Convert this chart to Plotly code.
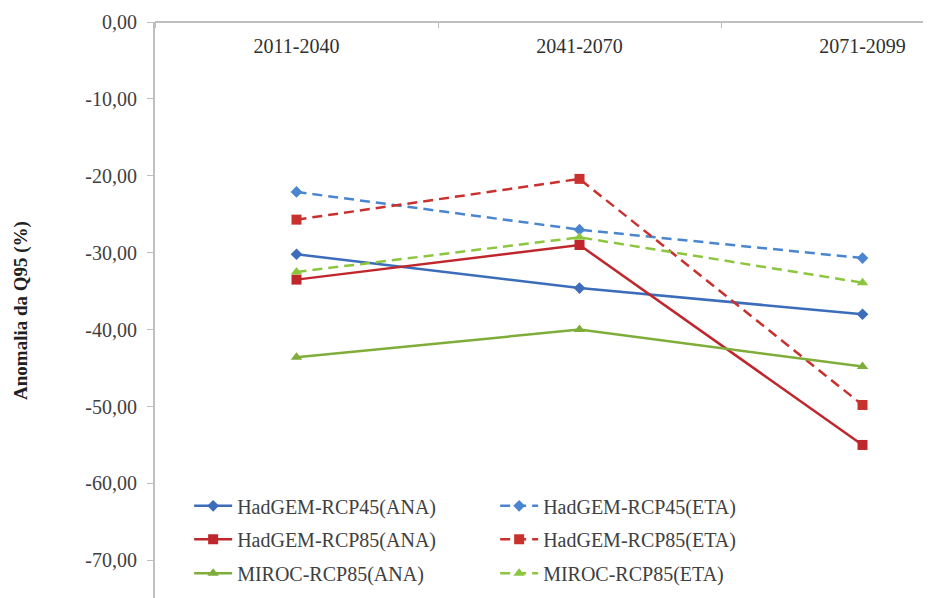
import plotly.graph_objects as go

periods = ["2011-2040", "2041-2070", "2071-2099"]
series_names = [
    "HadGEM-RCP45(ANA)", "HadGEM-RCP45(ETA)",
    "HadGEM-RCP85(ANA)", "HadGEM-RCP85(ETA)",
    "MIROC-RCP85(ANA)", "MIROC-RCP85(ETA)",
]
had45_ana = [-30.2, -34.6, -38.0]
had45_eta = [-22.1, -27.0, -30.7]
had85_ana = [-33.5, -29.0, -55.0]
had85_eta = [-25.7, -20.4, -49.8]
miroc_ana = [-43.6, -40.0, -44.8]
miroc_eta = [-32.5, -28.0, -33.9]
y_ticks = [0, -10, -20, -30, -40, -50, -60, -70]
y_title = "Anomalia da Q95 (%)"

values = [had45_ana, had45_eta, had85_ana, had85_eta, miroc_ana, miroc_eta]
colors = ["#3B6DBA", "#4A86CF", "#C0272D", "#C9312F", "#7FAD3A", "#8CC63F"]
dashes = ["solid", "dash", "solid", "dash", "solid", "dash"]
symbols = ["diamond", "diamond", "square", "square", "triangle-up", "triangle-up"]
sizes = [9, 9, 10, 10, 10, 10]
legend_ids = ["legend", "legend", "legend2", "legend2", "legend3", "legend3"]

FONT = "Liberation Serif, Times New Roman, serif"

fig = go.Figure()
for name, vals, c, d, s, sz, lg in zip(series_names, values, colors, dashes, symbols, sizes, legend_ids):
    fig.add_trace(go.Scatter(
        x=periods, y=vals, name=name, mode="lines+markers",
        line=dict(color=c, width=2.5, dash="10px,6px" if d == "dash" else "solid"),
        marker=dict(symbol=s, size=sz, color=c),
        legend=lg,
    ))

def tick_label(v):
    return f"{v:.2f}".replace(".", ",")

legend_common = dict(
    orientation="h", x=0.044, xanchor="left", yanchor="middle",
    entrywidth=253, entrywidthmode="pixels", itemwidth=38,
    font=dict(family=FONT, size=20, color="#404040"), bgcolor="rgba(0,0,0,0)",
)

# page body has an 8px default margin, so the figure is 8px smaller than the window
fig.update_layout(
    width=923, height=590,
    margin=dict(l=147, r=0, t=14, b=0),
    paper_bgcolor="white", plot_bgcolor="white",
    font=dict(family=FONT, size=20, color="#404040"),
    showlegend=True,
    legend=dict(y=0.160, **legend_common),
    legend2=dict(y=0.102, **legend_common),
    legend3=dict(y=0.043, **legend_common),
    xaxis=dict(
        type="category", side="bottom", anchor="free", position=1,
        range=[-0.5, 2.242], automargin=False,
        showline=True, linecolor="#BFBFBF", linewidth=2,
        ticks="outside", tickson="boundaries", ticklen=5, tickcolor="#BFBFBF",
        ticklabelstandoff=6,
        showgrid=False, zeroline=False,
        tickfont=dict(family=FONT, size=20, color="#303030"),
    ),
    yaxis=dict(
        range=[-74.9, 0], automargin=False,
        tickvals=y_ticks, ticktext=[tick_label(v) for v in y_ticks],
        showline=True, linecolor="#BFBFBF", linewidth=2,
        ticks="outside", ticklen=6, tickcolor="#BFBFBF", ticklabelstandoff=6,
        showgrid=False, zeroline=False,
        tickfont=dict(family=FONT, size=20, color="#404040"),
    ),
    annotations=[dict(
        text=f"<b>{y_title}</b>", xref="paper", yref="paper",
        x=-0.1727, y=0.5, xanchor="center", yanchor="middle",
        textangle=-90, showarrow=False,
        font=dict(family=FONT, size=19, color="#202020"),
    )],
)

fig.write_html("out.html")
